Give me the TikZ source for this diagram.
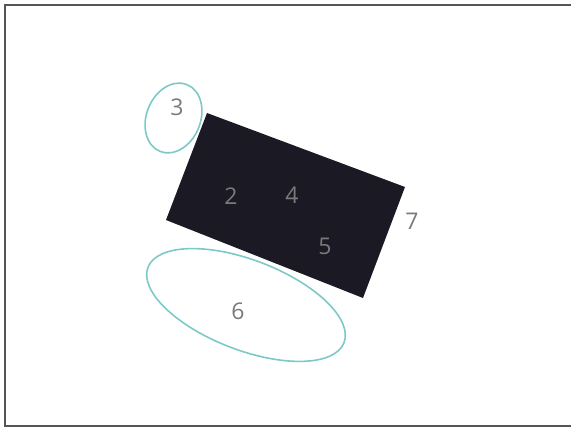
\documentclass[tikz,border=0pt]{standalone}
\usepackage{fontspec}
\setmainfont{Open Sans}
\usetikzlibrary{shapes.geometric}

\definecolor{boxblack}{HTML}{1B1A24}
\definecolor{ringteal}{HTML}{7CC9C8}
\definecolor{numgray}{HTML}{7A7A7A}
\definecolor{framegray}{HTML}{555555}

\begin{document}
\begin{tikzpicture}[x=1pt, y=-1pt,
    every node/.style={font=\fontsize{23}{27}\selectfont, text=numgray},
    ring/.style={ellipse, draw=ringteal, line width=1.6pt, inner sep=0pt}]
  \useasboundingbox (0,0) rectangle (571,428);
  % outer frame (right side runs off the page)
  \draw[framegray, line width=2pt] (4.5,5.5) rectangle (600,426);

  % black box, tilted
  \coordinate (b1) at (207,113);
  \coordinate (b2) at (405,187);
  \coordinate (b3) at (363,298);
  \coordinate (b4) at (166,220);
  \fill[boxblack] (b1) -- (b2) -- (b3) -- (b4) -- cycle;

  % rings
  \node[ring, minimum width=54pt, minimum height=72pt, rotate=-22] (r3) at (173.5,118) {};
  \node[ring, minimum width=210pt, minimum height=90pt, rotate=-21] (r6) at (246,305) {};

  % numbers
  \node (n3) at (177,107) {3};
  \node (n2) at (231,196) {2};
  \node (n4) at (292,195) {4};
  \node (n5) at (325,246) {5};
  \node (n7) at (412,221) {7};
  \node (n6) at (238,311) {6};
\end{tikzpicture}
\end{document}
